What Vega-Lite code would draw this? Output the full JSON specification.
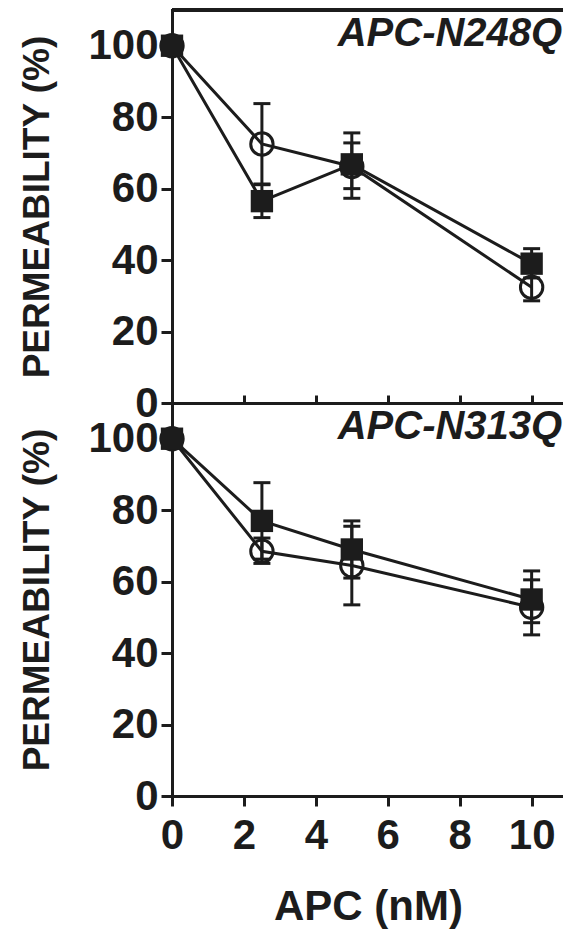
{
  "$schema": "https://vega.github.io/schema/vega-lite/v6.json",
  "autosize": {"type": "pad"},
  "padding": {"left": 18, "top": 8, "right": 0, "bottom": 5},
  "background": "white",
  "datasets": {
    "pts": [
      {"panel": "APC-N248Q", "series": "open", "apc": 0, "perm": 100, "lo": null, "hi": null},
      {"panel": "APC-N248Q", "series": "open", "apc": 2.5, "perm": 72.5, "lo": 61.3, "hi": 83.8},
      {"panel": "APC-N248Q", "series": "open", "apc": 5, "perm": 66.2, "lo": 57.3, "hi": 75.6},
      {"panel": "APC-N248Q", "series": "open", "apc": 10, "perm": 32.4, "lo": 28.6, "hi": 36.6},
      {"panel": "APC-N248Q", "series": "filled", "apc": 0, "perm": 100, "lo": null, "hi": null},
      {"panel": "APC-N248Q", "series": "filled", "apc": 2.5, "perm": 56.5, "lo": 51.9, "hi": 61.1},
      {"panel": "APC-N248Q", "series": "filled", "apc": 5, "perm": 66.8, "lo": 60.0, "hi": 72.8},
      {"panel": "APC-N248Q", "series": "filled", "apc": 10, "perm": 39.0, "lo": 35.0, "hi": 43.2},
      {"panel": "APC-N313Q", "series": "open", "apc": 0, "perm": 100, "lo": null, "hi": null},
      {"panel": "APC-N313Q", "series": "open", "apc": 2.5, "perm": 68.5, "lo": 65.1, "hi": 72.2},
      {"panel": "APC-N313Q", "series": "open", "apc": 5, "perm": 64.5, "lo": 53.5, "hi": 75.5},
      {"panel": "APC-N313Q", "series": "open", "apc": 10, "perm": 52.8, "lo": 45.1, "hi": 60.5},
      {"panel": "APC-N313Q", "series": "filled", "apc": 0, "perm": 100, "lo": null, "hi": null},
      {"panel": "APC-N313Q", "series": "filled", "apc": 2.5, "perm": 77.0, "lo": 66.3, "hi": 87.7},
      {"panel": "APC-N313Q", "series": "filled", "apc": 5, "perm": 69.0, "lo": 61.0, "hi": 77.0},
      {"panel": "APC-N313Q", "series": "filled", "apc": 10, "perm": 55.0, "lo": 48.5, "hi": 63.0}
    ]
  },
  "spacing": 0,
  "bounds": "flush",
  "vconcat": [
    {
      "width": 392,
      "height": 393,
      "data": {"name": "pts"},
      "transform": [{"filter": "datum.panel === 'APC-N248Q'"}],
      "encoding": {
        "x": {"field": "apc", "type": "quantitative", "scale": {"domain": [0, 10.9], "nice": false, "zero": false},
              "axis": {"values": [0, 2, 4, 6, 8, 10], "labels": false, "title": null, "tickSize": -8, "orient": "bottom"}},
        "y": {"field": "perm", "type": "quantitative", "scale": {"domain": [0, 110], "nice": false},
              "axis": {"values": [0, 20, 40, 60, 80, 100], "title": "PERMEABILITY (%)"}}
      },
      "layer": [
        {"mark": {"type": "rule", "color": "#1c1c1c", "strokeWidth": 3}, "encoding": {"y": {"datum": 110}, "x": null}},
        {"mark": {"type": "line", "color": "#1c1c1c", "strokeWidth": 3}, "encoding": {"detail": {"field": "series"}}},
        {"transform": [{"filter": "datum.lo != null"}], "mark": {"type": "rule", "color": "#1c1c1c", "strokeWidth": 3},
         "encoding": {"y": {"field": "lo", "type": "quantitative"}, "y2": {"field": "hi"}}},
        {"transform": [{"filter": "datum.lo != null"}], "mark": {"type": "tick", "orient": "horizontal", "color": "#1c1c1c", "thickness": 3, "size": 17, "opacity": 1},
         "encoding": {"y": {"field": "lo", "type": "quantitative"}}},
        {"transform": [{"filter": "datum.lo != null"}], "mark": {"type": "tick", "orient": "horizontal", "color": "#1c1c1c", "thickness": 3, "size": 17, "opacity": 1},
         "encoding": {"y": {"field": "hi", "type": "quantitative"}}},
        {"transform": [{"filter": "datum.series === 'open'"}], "mark": {"type": "point", "shape": "circle", "filled": false, "color": "#1c1c1c", "strokeWidth": 3, "size": 500, "opacity": 1}},
        {"transform": [{"filter": "datum.series === 'filled'"}], "mark": {"type": "point", "shape": "square", "filled": true, "color": "#1c1c1c", "size": 500, "opacity": 1}},
        {"transform": [{"filter": "datum.apc === 0 && datum.series === 'open'"}],
         "mark": {"type": "text", "align": "right", "baseline": "alphabetic", "font": "Liberation Sans", "fontSize": 40, "fontWeight": "bold", "fontStyle": "italic", "color": "#1c1c1c"},
         "encoding": {"x": {"datum": 10.85}, "y": {"datum": 100}, "text": {"field": "panel"}}}
      ]
    },
    {
      "width": 392,
      "height": 393,
      "data": {"name": "pts"},
      "transform": [{"filter": "datum.panel === 'APC-N313Q'"}],
      "encoding": {
        "x": {"field": "apc", "type": "quantitative", "scale": {"domain": [0, 10.9], "nice": false, "zero": false},
              "axis": {"values": [0, 2, 4, 6, 8, 10], "title": "APC (nM)", "labelFlush": false}},
        "y": {"field": "perm", "type": "quantitative", "scale": {"domain": [0, 110], "nice": false},
              "axis": {"values": [0, 20, 40, 60, 80, 100], "title": "PERMEABILITY (%)"}}
      },
      "layer": [
        {"mark": {"type": "line", "color": "#1c1c1c", "strokeWidth": 3}, "encoding": {"detail": {"field": "series"}}},
        {"transform": [{"filter": "datum.lo != null"}], "mark": {"type": "rule", "color": "#1c1c1c", "strokeWidth": 3},
         "encoding": {"y": {"field": "lo", "type": "quantitative"}, "y2": {"field": "hi"}}},
        {"transform": [{"filter": "datum.lo != null"}], "mark": {"type": "tick", "orient": "horizontal", "color": "#1c1c1c", "thickness": 3, "size": 17, "opacity": 1},
         "encoding": {"y": {"field": "lo", "type": "quantitative"}}},
        {"transform": [{"filter": "datum.lo != null"}], "mark": {"type": "tick", "orient": "horizontal", "color": "#1c1c1c", "thickness": 3, "size": 17, "opacity": 1},
         "encoding": {"y": {"field": "hi", "type": "quantitative"}}},
        {"transform": [{"filter": "datum.series === 'open'"}], "mark": {"type": "point", "shape": "circle", "filled": false, "color": "#1c1c1c", "strokeWidth": 3, "size": 500, "opacity": 1}},
        {"transform": [{"filter": "datum.series === 'filled'"}], "mark": {"type": "point", "shape": "square", "filled": true, "color": "#1c1c1c", "size": 500, "opacity": 1}},
        {"transform": [{"filter": "datum.apc === 0 && datum.series === 'open'"}],
         "mark": {"type": "text", "align": "right", "baseline": "alphabetic", "font": "Liberation Sans", "fontSize": 40, "fontWeight": "bold", "fontStyle": "italic", "color": "#1c1c1c"},
         "encoding": {"x": {"datum": 10.85}, "y": {"datum": 100}, "text": {"field": "panel"}}}
      ]
    }
  ],
  "config": {
    "view": {"stroke": null},
    "axis": {
      "grid": false,
      "domainColor": "#1c1c1c", "domainWidth": 3, "domainCap": "square",
      "tickColor": "#1c1c1c", "tickWidth": 3, "tickSize": 11,
      "labelFont": "Liberation Sans", "labelFontSize": 42, "labelFontWeight": "bold", "labelColor": "#1c1c1c", "labelPadding": 3,
      "titleFont": "Liberation Sans", "titleFontWeight": "bold", "titleColor": "#1c1c1c"
    },
    "axisY": {"titleFontSize": 37, "titlePadding": 31, "labelOverlap": false},
    "axisX": {"titleFontSize": 42, "titlePadding": 30, "labelPadding": 9, "tickSize": 10, "labelOverlap": false}
  }
}
